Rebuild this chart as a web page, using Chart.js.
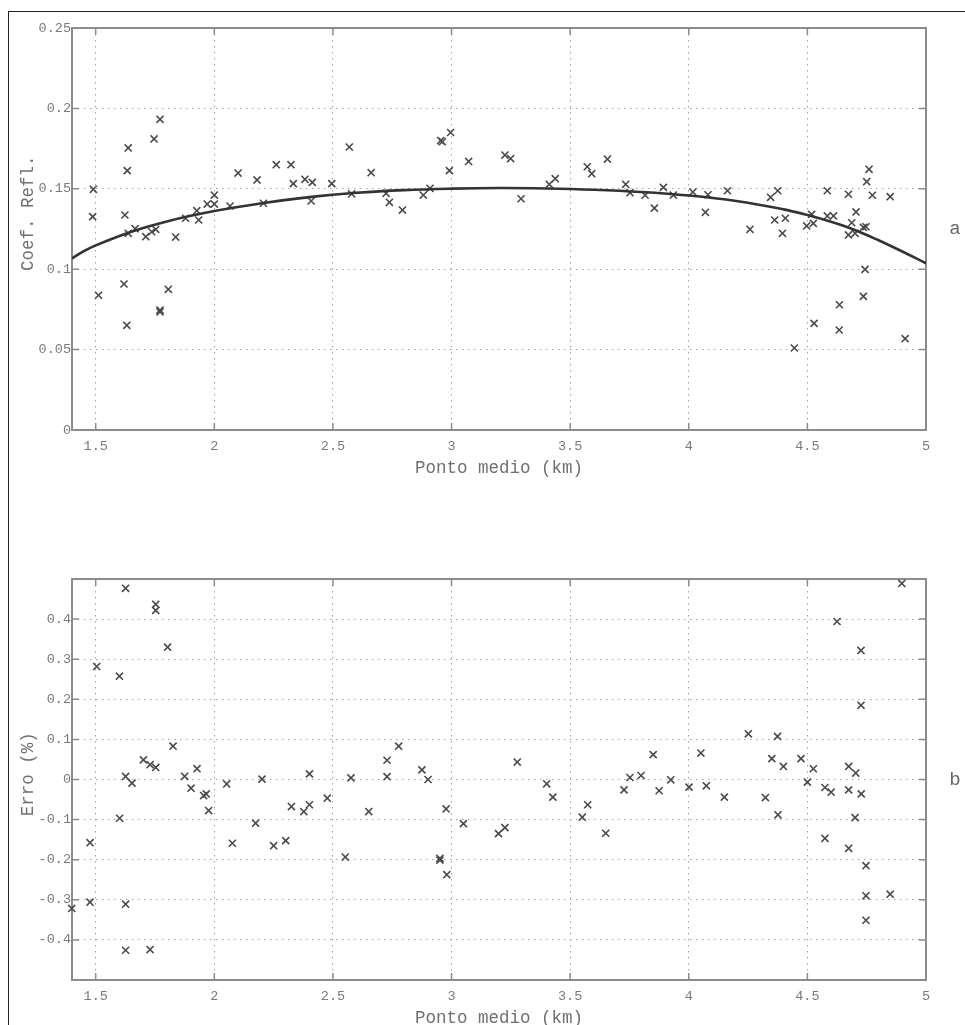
<!DOCTYPE html>
<html><head><meta charset="utf-8">
<script src="https://cdn.jsdelivr.net/npm/chart.js@4.4.1/dist/chart.umd.min.js"></script>
<style>
html,body{margin:0;padding:0;background:#fff;overflow:hidden;width:965px;height:1025px;position:relative;}
#frame{position:absolute;left:8px;top:11px;width:1000px;height:1100px;border-left:1.5px solid #222;border-top:1.5px solid #222;}
canvas{position:absolute;left:0;}
#c1{top:0}
#c2{top:490px}
</style></head><body>
<div id="frame"></div>
<canvas id="c1" width="965" height="490"></canvas>
<canvas id="c2" width="965" height="560"></canvas>
<script>
// ---- data (Ponto medio in km) ----
const midpointTop = [1.487,1.490,1.512,1.619,1.623,1.631,1.633,1.637,1.637,1.666,1.711,1.736,1.746,1.753,1.771,1.771,1.771,1.806,1.837,1.879,1.926,1.934,1.970,2.000,2.000,2.066,2.100,2.180,2.207,2.261,2.323,2.333,2.382,2.408,2.413,2.495,2.569,2.579,2.661,2.724,2.738,2.793,2.881,2.909,2.954,2.961,2.991,2.996,3.072,3.225,3.249,3.293,3.412,3.437,3.572,3.591,3.657,3.734,3.752,3.816,3.855,3.893,3.935,4.017,4.070,4.081,4.163,4.258,4.345,4.362,4.375,4.395,4.407,4.445,4.497,4.518,4.525,4.528,4.584,4.584,4.610,4.634,4.635,4.673,4.673,4.687,4.701,4.705,4.736,4.736,4.743,4.747,4.750,4.760,4.774,4.849,4.912];
const coefRefl = [0.1327,0.1497,0.0838,0.0908,0.1337,0.0651,0.1613,0.1754,0.1223,0.1252,0.1202,0.1233,0.181,0.1248,0.1932,0.0746,0.0734,0.0875,0.120,0.1317,0.1364,0.1306,0.1405,0.1461,0.1405,0.1393,0.1598,0.1555,0.141,0.165,0.165,0.1532,0.1559,0.1424,0.154,0.1532,0.176,0.1468,0.160,0.1472,0.1416,0.1368,0.1461,0.1503,0.180,0.1793,0.1613,0.185,0.167,0.171,0.1688,0.1438,0.1528,0.1563,0.1637,0.1594,0.1685,0.1528,0.1476,0.146,0.138,0.1509,0.1461,0.148,0.1354,0.1463,0.1488,0.1248,0.1447,0.1306,0.1488,0.1223,0.1317,0.051,0.1269,0.1341,0.1285,0.0663,0.1488,0.1331,0.1331,0.0622,0.0779,0.1466,0.1213,0.1289,0.1223,0.1356,0.126,0.0831,0.0999,0.1264,0.1544,0.1621,0.146,0.1451,0.0568];
const fitMidpoint = [1.4,1.45,1.5,1.6,1.7,1.8,1.9,2.0,2.2,2.4,2.6,2.8,3.0,3.2,3.4,3.6,3.8,4.0,4.2,4.4,4.5,4.6,4.7,4.8,4.9,5.0];
const fitCoef = [0.1067,0.1112,0.1148,0.1207,0.1256,0.1297,0.1332,0.1362,0.1410,0.1448,0.1475,0.1492,0.1501,0.1505,0.1502,0.1494,0.1480,0.1458,0.1424,0.1372,0.1337,0.1295,0.1244,0.1180,0.1110,0.1037];
const midpointBottom = [1.399,1.476,1.476,1.504,1.601,1.600,1.626,1.626,1.626,1.626,1.653,1.701,1.729,1.729,1.753,1.753,1.753,1.803,1.826,1.875,1.902,1.927,1.955,1.966,1.976,2.052,2.076,2.174,2.201,2.250,2.301,2.325,2.377,2.401,2.401,2.476,2.552,2.576,2.651,2.728,2.728,2.777,2.875,2.901,2.951,2.951,2.977,2.980,3.050,3.198,3.225,3.277,3.401,3.427,3.551,3.574,3.650,3.727,3.752,3.799,3.850,3.875,3.924,4.001,4.051,4.074,4.150,4.251,4.323,4.350,4.374,4.376,4.399,4.473,4.500,4.525,4.574,4.574,4.600,4.625,4.674,4.674,4.674,4.701,4.704,4.726,4.726,4.727,4.747,4.747,4.747,4.849,4.898];
const erro = [-0.3216,-0.1575,-0.306,0.2818,-0.0966,0.2576,0.4768,0.0076,-0.311,-0.4258,-0.009,0.049,0.037,-0.424,0.4368,0.4218,0.030,0.33,0.083,0.008,-0.0216,0.027,-0.040,-0.036,-0.0775,-0.011,-0.159,-0.109,0.001,-0.165,-0.1525,-0.0675,-0.08,-0.063,0.014,-0.0466,-0.1935,0.004,-0.08,0.048,0.007,0.083,0.024,0.0,-0.1966,-0.201,-0.0735,-0.2374,-0.110,-0.135,-0.12,0.0435,-0.0108,-0.044,-0.094,-0.063,-0.134,-0.0258,0.005,0.010,0.062,-0.028,-0.0008,-0.019,0.066,-0.0158,-0.044,0.114,-0.045,0.052,0.1076,-0.088,0.0326,0.052,-0.0066,0.0268,-0.02,-0.1466,-0.0316,0.394,0.0326,-0.0258,-0.1716,-0.095,0.016,0.3218,0.185,-0.0358,-0.215,-0.29,-0.351,-0.286,0.489];
const xTicks = [1.5,2,2.5,3,3.5,4,4.5,5];
const yTicksTop = [0,0.05,0.1,0.15,0.2,0.25];
const yTicksBottom = [-0.4,-0.3,-0.2,-0.1,0,0.1,0.2,0.3,0.4];

const MONO = 'Liberation Mono';
const TICK_COLOR = '#7a7a7a';

function boxPlugin(letter){
  return {
    id:'box'+letter,
    beforeDatasetsDraw(chart){
      const {ctx, chartArea:a, scales:{x,y}} = chart;
      ctx.save();
      ctx.strokeStyle = '#8c8c8c';
      ctx.lineWidth = 2;
      ctx.strokeRect(a.left, a.top, a.right-a.left, a.bottom-a.top);
      ctx.lineWidth = 1.5;
      ctx.beginPath();
      x.ticks.forEach(t=>{
        const px = x.getPixelForValue(t.value);
        ctx.moveTo(px,a.top); ctx.lineTo(px,a.top+7);
        ctx.moveTo(px,a.bottom); ctx.lineTo(px,a.bottom-7);
      });
      y.ticks.forEach(t=>{
        const py = y.getPixelForValue(t.value);
        ctx.moveTo(a.left,py); ctx.lineTo(a.left+7,py);
        ctx.moveTo(a.right,py); ctx.lineTo(a.right-7,py);
      });
      ctx.stroke();
      ctx.fillStyle = '#666';
      ctx.font = '19px "' + MONO + '"';
      ctx.textAlign = 'center';
      ctx.textBaseline = 'middle';
      ctx.fillText(letter, a.right+29, (a.top+a.bottom)/2);
      ctx.restore();
    }
  };
}

function xScale(){
  return {
    type:'linear', min:1.4, max:5,
    afterBuildTicks: s => { s.ticks = xTicks.map(v=>({value:v})); },
    afterFit: s => { s.height = 60; },
    grid:{color:'#a0a0a0', lineWidth:1, drawTicks:false},
    border:{display:false, dash:[1.5,4.5]},
    ticks:{padding:8, color:TICK_COLOR, font:{family:MONO, size:13.5}, maxRotation:0, autoSkip:false, callback: v => String(v)},
    title:{display:true, text:'Ponto medio (km)', color:'#707070', font:{family:MONO, size:17.5}, padding:{top:0,bottom:11.5}}
  };
}
function yScale(min, max, ticks, title){
  return {
    type:'linear', min, max,
    afterBuildTicks: s => { s.ticks = ticks.map(v=>({value:v})); },
    afterFit: s => { s.width = 72; },
    grid:{color:'#a0a0a0', lineWidth:1, drawTicks:false},
    border:{display:false, dash:[1.5,4.5]},
    ticks:{padding:1, color:TICK_COLOR, font:{family:MONO, size:13.5}, autoSkip:false, callback: v => String(v)},
    title:{display:true, text:title, color:'#707070', font:{family:MONO, size:17.5}, padding:{top:18,bottom:0}}
  };
}
function pts(xs, ys){ return xs.map((x,i)=>({x, y:ys[i]})); }

const common = {
  responsive:false, animation:false, devicePixelRatio:1,
  plugins:{legend:{display:false}, tooltip:{enabled:false}}
};

new Chart(document.getElementById('c1'), {
  type:'scatter',
  data:{datasets:[
    {type:'line', data:pts(fitMidpoint, fitCoef), borderColor:'#333', borderWidth:2.6, pointRadius:0, tension:0.4, fill:false, order:0},
    {type:'scatter', data:pts(midpointTop, coefRefl), pointStyle:'crossRot', pointRadius:5, borderColor:'#4a4a4a', backgroundColor:'#4a4a4a', borderWidth:1.6, clip:false, order:1}
  ]},
  options:Object.assign({}, common, {
    layout:{padding:{left:0, top:28, right:39, bottom:0}},
    scales:{x:xScale(), y:yScale(0, 0.25, yTicksTop, '   Coef. Refl.')}
  }),
  plugins:[boxPlugin('a')]
});

new Chart(document.getElementById('c2'), {
  type:'scatter',
  data:{datasets:[
    {type:'scatter', data:pts(midpointBottom, erro), pointStyle:'crossRot', pointRadius:5, borderColor:'#4a4a4a', backgroundColor:'#4a4a4a', borderWidth:1.6, clip:false}
  ]},
  options:Object.assign({}, common, {
    layout:{padding:{left:0, top:89, right:39, bottom:10}},
    scales:{x:xScale(), y:yScale(-0.5, 0.5, yTicksBottom, ' Erro (%)')}
  }),
  plugins:[boxPlugin('b')]
});
</script>
</body></html>
